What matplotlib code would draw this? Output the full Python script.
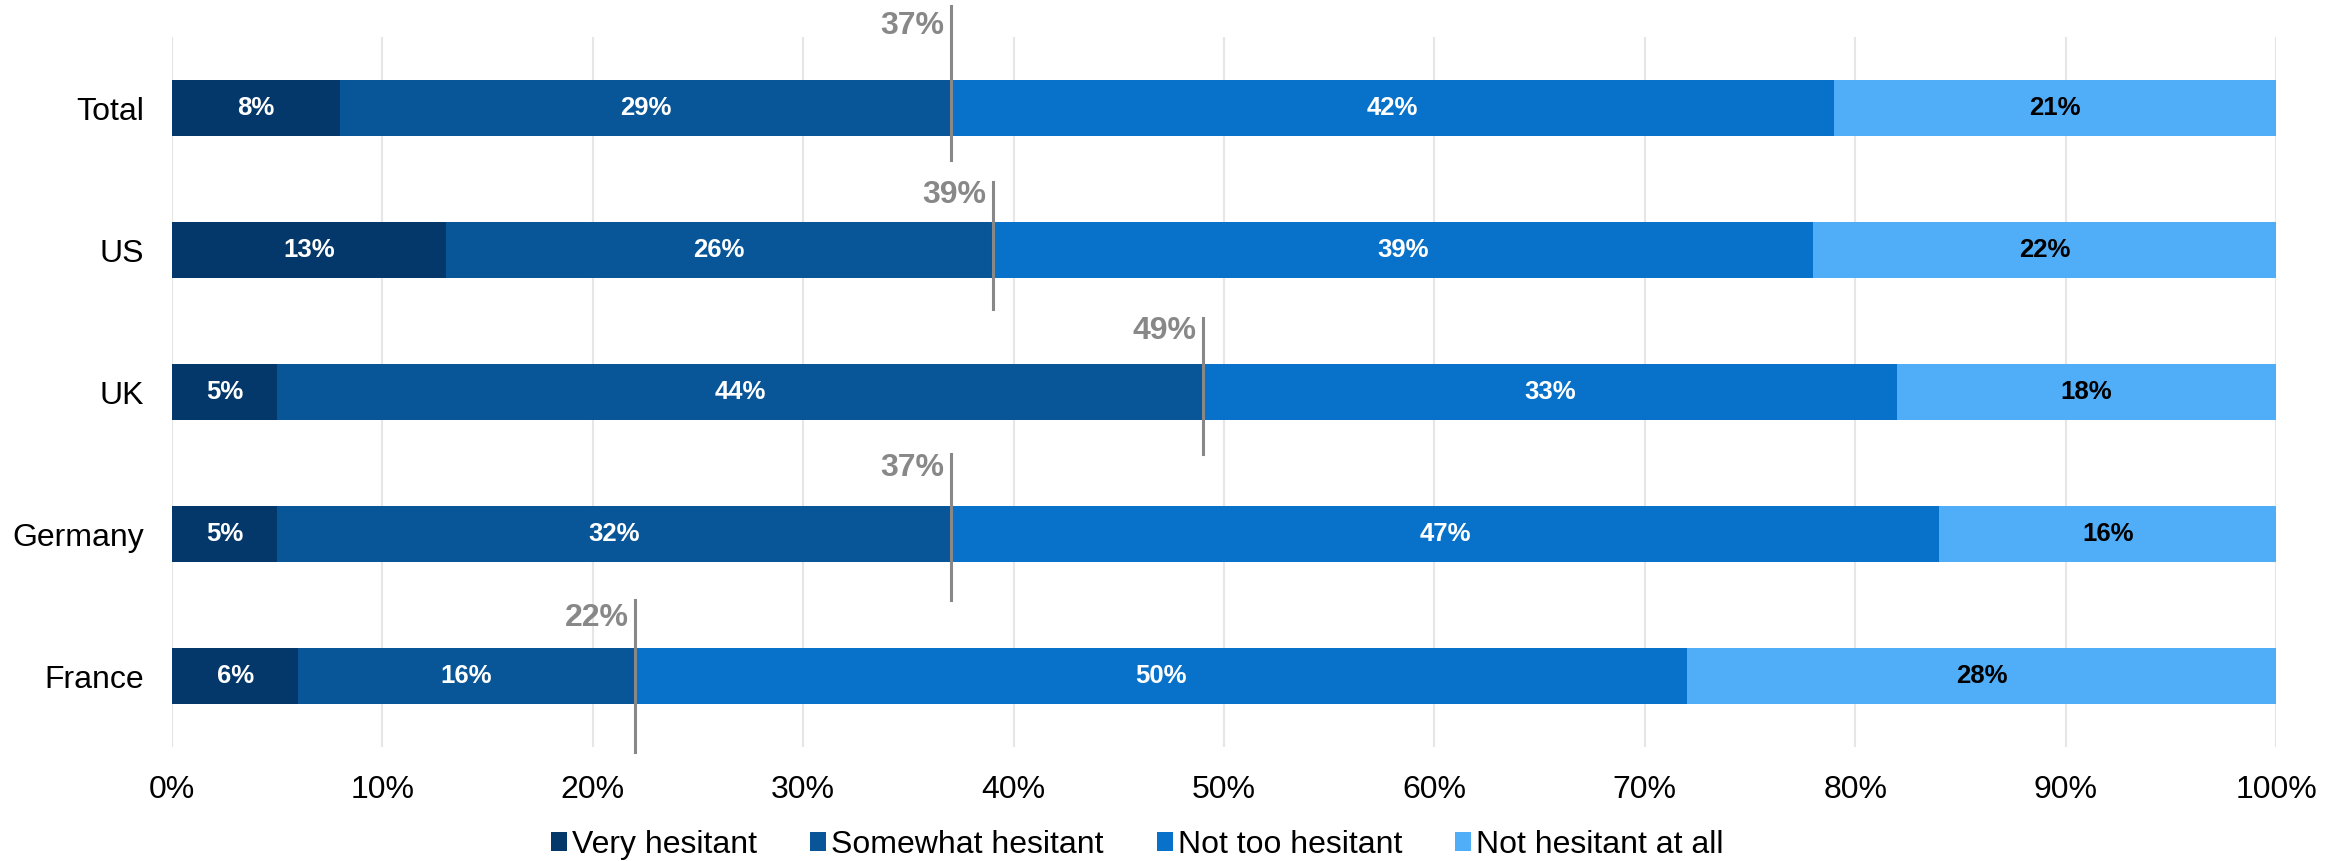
import matplotlib
matplotlib.use("Agg")
import matplotlib.pyplot as plt
from matplotlib.patches import Patch
import numpy as np

plt.rcParams["font.family"] = ["Liberation Sans", "DejaVu Sans"]

# survey shares (%) per country, stacked left to right
countries = ["Total", "US", "UK", "Germany", "France"]
very_hesitant = [8, 13, 5, 5, 6]
somewhat_hesitant = [29, 26, 44, 32, 16]
not_too_hesitant = [42, 39, 33, 47, 50]
not_hesitant_at_all = [21, 22, 18, 16, 28]
# share that is at least somewhat hesitant, marked with a vertical line
hesitant_total = [37, 39, 49, 37, 22]

series = [
    ("Very hesitant", very_hesitant, "#05386A", "white"),
    ("Somewhat hesitant", somewhat_hesitant, "#085598", "white"),
    ("Not too hesitant", not_too_hesitant, "#0872CB", "white"),
    ("Not hesitant at all", not_hesitant_at_all, "#50AEF9", "black"),
]

# marker-line extents above/below each bar centre, and label offset (category units)
line_up = [0.715, 0.479, 0.521, 0.56, 0.532]
line_down = [0.363, 0.415, 0.437, 0.468, 0.532]
label_up = [0.577, 0.384, 0.43, 0.465, 0.405]

fig = plt.figure(figsize=(23.44, 8.61), dpi=100)
ax = fig.add_axes([0.0734, 0.1324, 0.8976, 0.8246])

y = np.arange(len(countries))
left = np.zeros(len(countries))
for name, vals, color, tcolor in series:
    vals = np.array(vals, dtype=float)
    ax.barh(y, vals, left=left, height=0.40, color=color, edgecolor="none",
            zorder=2, label=name)
    for yi, l, v in zip(y, left, vals):
        ax.text(l + v / 2, yi, f"{v:.0f}%", ha="center", va="center",
                color=tcolor, fontsize=18.5, fontweight="bold", zorder=4)
    left += vals

for yi, h, up, dn, lu in zip(y, hesitant_total, line_up, line_down, label_up):
    ax.plot([h, h], [yi - up, yi + dn], color="#888888", lw=2.2,
            zorder=5, clip_on=False)
    ax.text(h - 0.3, yi - lu, f"{h}%", ha="right", va="center",
            color="#888888", fontsize=23, fontweight="bold", zorder=5,
            clip_on=False)

ax.set_xlim(0, 100)
ax.set_ylim(len(countries) - 0.5, -0.5)
ax.set_xticks(np.arange(0, 101, 10))
ax.set_xticklabels([f"{t}%" for t in range(0, 101, 10)])
ax.set_yticks(y)
ax.set_yticklabels(countries)
ax.tick_params(axis="x", length=0, pad=20, labelsize=23, colors="black")
ax.tick_params(axis="y", length=0, pad=20, labelsize=23, colors="black")
ax.grid(axis="x", color="#E6E6E6", lw=1.5, zorder=0)
ax.set_axisbelow(True)
for s in ax.spines.values():
    s.set_visible(False)

handles = [Patch(facecolor=c, edgecolor="none") for _, _, c, _ in series]
fig.legend(handles, [n for n, _, _, _ in series], loc="center",
           bbox_to_anchor=(0.4853, 0.0186), ncol=4, frameon=False,
           fontsize=23, handlelength=0.5, handleheight=0.53,
           handletextpad=0.16, columnspacing=1.66)

fig.savefig("out.png", dpi=100)
